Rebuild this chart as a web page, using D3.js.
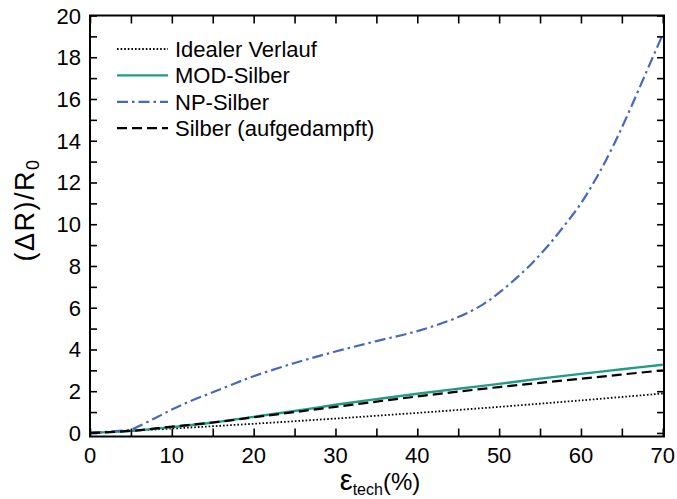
<!DOCTYPE html>
<html>
<head>
<meta charset="utf-8">
<script src="https://cdn.jsdelivr.net/npm/d3@7"></script>
<style>
  body { margin: 0; background: #fff; }
  text { font-family: "Liberation Sans", Arial, sans-serif; fill: #000; }
</style>
</head>
<body>
<script>
// strain in %
var strainIdeal = [0, 10, 20, 30, 40, 50, 60, 70];
var valuesIdeal = [0, 0.21, 0.44, 0.69, 0.96, 1.25, 1.56, 1.89];

var strainMod = [0, 5, 10, 15, 20, 25, 30, 35, 40, 45, 50, 55, 60, 65, 70];
var valuesMod = [0, 0.1, 0.28, 0.5, 0.77, 1.05, 1.35, 1.62, 1.88, 2.12, 2.35, 2.6, 2.83, 3.05, 3.27];

var strainNp = [0, 2, 4, 5, 6, 8, 10, 12, 15, 18, 20, 25, 30, 35, 40, 45, 48, 50, 52, 54, 56, 58, 60, 62, 64, 66, 68, 70];
var valuesNp = [0, 0.05, 0.12, 0.16, 0.33, 0.72, 1.12, 1.48, 1.95, 2.42, 2.72, 3.35, 3.9, 4.4, 4.88, 5.55, 6.15, 6.72, 7.38, 8.12, 8.98, 9.95, 11.0, 12.3, 13.8, 15.5, 17.3, 19.1];

var strainVap = [0, 5, 10, 15, 20, 25, 30, 35, 40, 45, 50, 55, 60, 65, 70];
var valuesVap = [0, 0.1, 0.3, 0.5, 0.75, 1.0, 1.25, 1.5, 1.75, 1.98, 2.2, 2.4, 2.6, 2.8, 3.0];

var seriesNames = ["Idealer Verlauf", "MOD-Silber", "NP-Silber", "Silber (aufgedampft)"];

var xTicks = [0, 10, 20, 30, 40, 50, 60, 70];
var yTicks = [0, 2, 4, 6, 8, 10, 12, 14, 16, 18, 20];

var width = 677, height = 499;
var margin = { top: 15.5, right: 13, bottom: 62.5, left: 90 };

var svg = d3.select("body").append("svg")
  .attr("width", width)
  .attr("height", height);

var x = d3.scaleLinear().domain([0, 70.15]).range([margin.left, width - margin.right]);
var y = d3.scaleLinear().domain([-0.17, 20]).range([height - margin.bottom, margin.top]);

var series = [
  { name: seriesNames[0], xs: strainIdeal, ys: valuesIdeal, color: "#000", dash: "1.6,2", w: 1.8 },
  { name: seriesNames[1], xs: strainMod, ys: valuesMod, color: "#1f9c86", dash: null, w: 2.4 },
  { name: seriesNames[2], xs: strainNp, ys: valuesNp, color: "#4768be", dash: "11,4,2.5,4", w: 2.2 },
  { name: seriesNames[3], xs: strainVap, ys: valuesVap, color: "#000", dash: "10,5", w: 2.2 }
];

var line = d3.line()
  .x(d => x(d[0]))
  .y(d => y(d[1]))
  .curve(d3.curveCatmullRom.alpha(0.5));

// curves
series.forEach(function (s) {
  svg.append("path")
    .datum(s.xs.map((v, i) => [v, s.ys[i]]))
    .attr("d", line)
    .attr("fill", "none")
    .attr("stroke", s.color)
    .attr("stroke-width", s.w)
    .attr("stroke-dasharray", s.dash);
});

// axes, ticks inside
var x0 = x.range()[0], x1 = x.range()[1], y0 = y.range()[0], y1 = y.range()[1];

svg.append("g")
  .attr("transform", "translate(0," + y0 + ")")
  .call(d3.axisTop(x).tickValues(d3.range(0, 71, 5)).tickSize(8).tickFormat(""))
  .call(g => g.select(".domain").remove());
svg.append("g")
  .attr("transform", "translate(0," + y1 + ")")
  .call(d3.axisBottom(x).tickValues(d3.range(0, 71, 5)).tickSize(8).tickFormat(""))
  .call(g => g.select(".domain").remove());
svg.append("g")
  .attr("transform", "translate(" + x0 + ",0)")
  .call(d3.axisRight(y).tickValues(d3.range(0, 21, 1)).tickSize(7).tickFormat(""))
  .call(g => g.select(".domain").remove());
svg.append("g")
  .attr("transform", "translate(" + x1 + ",0)")
  .call(d3.axisLeft(y).tickValues(d3.range(0, 21, 1)).tickSize(7).tickFormat(""))
  .call(g => g.select(".domain").remove());
svg.selectAll(".tick line").attr("stroke", "#000").attr("stroke-width", 1.6);

// frame
svg.append("rect")
  .attr("x", x0).attr("y", y1)
  .attr("width", x1 - x0).attr("height", y0 - y1)
  .attr("fill", "none").attr("stroke", "#000").attr("stroke-width", 2);

// tick labels
svg.append("g").selectAll("text")
  .data(xTicks).enter().append("text")
  .attr("x", d => x(d))
  .attr("y", y0 + 26)
  .attr("text-anchor", "middle")
  .style("font-size", "22px")
  .text(d => d);
svg.append("g").selectAll("text")
  .data(yTicks).enter().append("text")
  .attr("x", x0 - 9)
  .attr("y", d => y(d) + 8)
  .attr("text-anchor", "end")
  .style("font-size", "22px")
  .text(d => d);

// axis titles
var xt = svg.append("text")
  .attr("x", 380).attr("y", 490)
  .attr("text-anchor", "middle")
  .style("font-size", "24px");
xt.append("tspan").style("font-size", "29px").text("ε");
xt.append("tspan").attr("dy", 5).style("font-size", "16px").text("tech");
xt.append("tspan").attr("dy", -5).text("(%)");

var yt = svg.append("text")
  .attr("transform", "translate(34,210) rotate(-90)")
  .attr("text-anchor", "middle")
  .style("font-size", "27px")
  .style("letter-spacing", "1.5px");
yt.append("tspan").text("(ΔR)/R");
yt.append("tspan").attr("dy", 5).style("font-size", "18px").text("0");

// legend
var leg = svg.append("g");
series.forEach(function (s, i) {
  var ly = 49 + i * 26.4;
  leg.append("line")
    .attr("x1", 117).attr("x2", 168)
    .attr("y1", ly).attr("y2", ly)
    .attr("stroke", s.color)
    .attr("stroke-width", s.w)
    .attr("stroke-dasharray", s.dash);
  leg.append("text")
    .attr("x", 175).attr("y", ly + 8)
    .style("font-size", "22px")
    .text(s.name);
});
</script>
</body>
</html>
